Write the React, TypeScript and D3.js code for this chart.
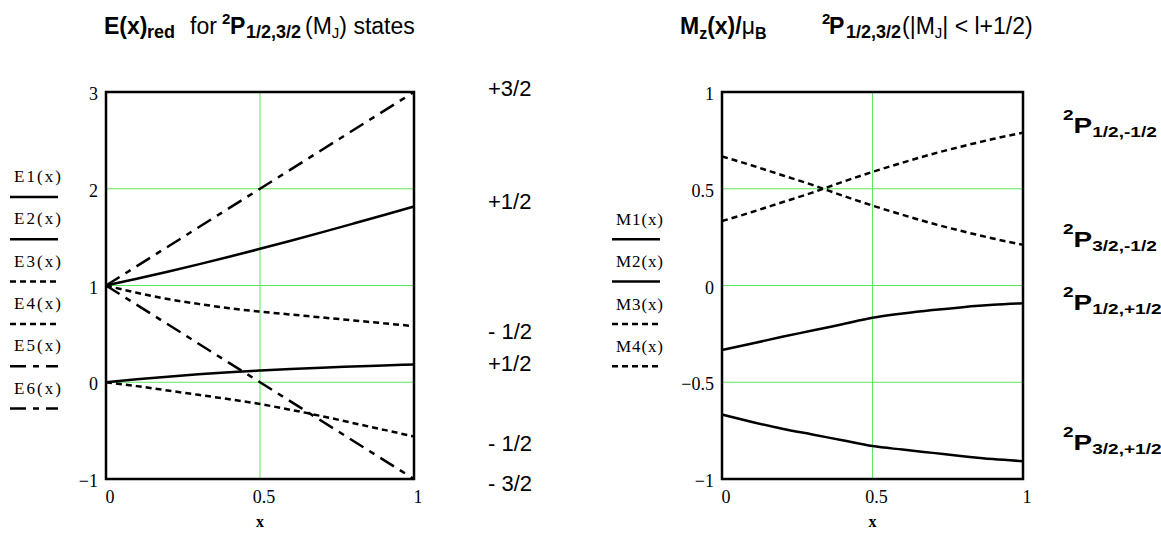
import * as d3 from "d3";

// sample points along x (both panels)
const xs = [0, 0.1, 0.2, 0.3, 0.4, 0.5, 0.6, 0.7, 0.8, 0.9, 1];
const xsLine = [0, 1];

// left panel: reduced energies
const E1 = [1, 1.07, 1.142, 1.218, 1.297, 1.379, 1.463, 1.549, 1.637, 1.726, 1.817];
const E2 = [0, 0.031, 0.058, 0.082, 0.103, 0.121, 0.137, 0.151, 0.163, 0.174, 0.184];
const E3 = [1, 0.925, 0.86, 0.81, 0.765, 0.73, 0.7, 0.67, 0.64, 0.61, 0.58];
const E4 = [0, -0.04, -0.085, -0.13, -0.175, -0.225, -0.285, -0.35, -0.42, -0.49, -0.56];
const E5 = [1, 3];
const E6 = [1, -1];

// right panel: magnetic moments
const M1 = [-0.333, -0.3, -0.265, -0.233, -0.2, -0.167, -0.145, -0.127, -0.112, -0.1, -0.092];
const M2 = [-0.667, -0.705, -0.74, -0.77, -0.8, -0.83, -0.848, -0.865, -0.882, -0.897, -0.908];
const M3 = [0.333, 0.38, 0.43, 0.48, 0.535, 0.587, 0.635, 0.68, 0.72, 0.757, 0.79];
const M4 = [0.667, 0.62, 0.57, 0.52, 0.465, 0.413, 0.365, 0.32, 0.28, 0.243, 0.21];

const leftYTicks = [-1, 0, 1, 2, 3];
const rightYTicks = [-1, -0.5, 0, 0.5, 1];
const xTicks = [0, 0.5, 1];

const leftNames = ["E1(x)", "E2(x)", "E3(x)", "E4(x)", "E5(x)", "E6(x)"];
const rightNames = ["M1(x)", "M2(x)", "M3(x)", "M4(x)"];

// labels to the right of each panel
const leftSideLabels = ["+3/2", "+1/2", "- 1/2", "+1/2", "- 1/2", "- 3/2"];
const leftSideY = [96, 209, 339, 371, 451, 491];
const rightSideSubs = ["1/2,-1/2", "3/2,-1/2", "1/2,+1/2", "3/2,+1/2"];
const rightSideY = [133, 247, 310, 450];

const SANS = "'Liberation Sans', Arial, Helvetica, sans-serif";
const SERIF = "'Liberation Serif', 'Times New Roman', serif";
const GRID = "#5fe65f";

const SOLID = "none";
const DOTS = "6,4";
const DASHDOT = "16,7,6,7";

function fmt(v: number) {
  return v < 0 ? "\u2212" + String(-v) : String(v);
}

type Series = { x: number[]; y: number[]; dash: string };

function Panel({ left, right, top, bottom, domain, yTicks, series }: {
  left: number; right: number; top: number; bottom: number;
  domain: [number, number]; yTicks: number[]; series: Series[];
}) {
  const x = d3.scaleLinear().domain([0, 1]).range([left, right]);
  const y = d3.scaleLinear().domain(domain).range([bottom, top]);
  const line = d3
    .line<[number, number]>()
    .x((d) => x(d[0]))
    .y((d) => y(d[1]))
    .curve(d3.curveMonotoneX);
  const inner = yTicks.filter((t) => t !== domain[0] && t !== domain[1]);
  return (
    <g>
      {inner.map((t) => (
        <line key={"h" + t} x1={left} x2={right} y1={y(t)} y2={y(t)} stroke={GRID} strokeWidth={1} />
      ))}
      <line x1={x(0.5)} x2={x(0.5)} y1={top} y2={bottom} stroke={GRID} strokeWidth={1} />
      {series.map((s, i) => (
        <path
          key={i}
          d={line(s.x.map((v, j) => [v, s.y[j]] as [number, number])) || ""}
          fill="none"
          stroke="#000"
          strokeWidth={2.5}
          strokeDasharray={s.dash}
        />
      ))}
      <rect x={left} y={top} width={right - left} height={bottom - top} fill="none" stroke="#000" strokeWidth={2.5} />
      {yTicks.map((t) => (
        <text key={"y" + t} x={left - 8} y={y(t) + 8} textAnchor="end" fontFamily={SERIF} fontSize={18}>
          {fmt(t)}
        </text>
      ))}
      {xTicks.map((t) => (
        <text key={"x" + t} x={x(t) + 4} y={503} textAnchor="middle" fontFamily={SERIF} fontSize={18}>
          {fmt(t)}
        </text>
      ))}
      <text x={x(0.5)} y={527} textAnchor="middle" fontFamily={SERIF} fontSize={16} fontWeight="bold">
        x
      </text>
    </g>
  );
}

function Legend({ names, dashes, x0, textBase, lineBase }: {
  names: string[]; dashes: string[]; x0: number; textBase: number; lineBase: number;
}) {
  return (
    <g>
      {names.map((n, i) => (
        <g key={n}>
          <text x={x0 + 4} y={textBase + i * 42.3} fontFamily={SERIF} fontSize={17} textLength={47} lengthAdjust="spacing">
            {n}
          </text>
          <line x1={x0} x2={x0 + 48} y1={lineBase + i * 42.3} y2={lineBase + i * 42.3} stroke="#000" strokeWidth={2.5} strokeDasharray={dashes[i]} />
        </g>
      ))}
    </g>
  );
}

export default function App() {
  document.body.style.margin = "0";
  const leftSeries: Series[] = [
    { x: xs, y: E1, dash: SOLID },
    { x: xs, y: E2, dash: SOLID },
    { x: xs, y: E3, dash: DOTS },
    { x: xs, y: E4, dash: DOTS },
    { x: xsLine, y: E5, dash: DASHDOT },
    { x: xsLine, y: E6, dash: DASHDOT },
  ];
  const rightSeries: Series[] = [
    { x: xs, y: M1, dash: SOLID },
    { x: xs, y: M2, dash: SOLID },
    { x: xs, y: M3, dash: DOTS },
    { x: xs, y: M4, dash: DOTS },
  ];
  return (
    <svg width={1161} height={534} style={{ display: "block", background: "#fff" }}>
      {/* left title */}
      <text fontFamily={SANS} fill="#000">
        <tspan x={104} y={34} fontSize={23} fontWeight="bold">E(x)</tspan>
        <tspan x={147} y={38} fontSize={18} fontWeight="bold">red</tspan>
        <tspan x={190} y={34} fontSize={23}>for</tspan>
        <tspan x={222} y={24} fontSize={15} fontWeight="bold">2</tspan>
        <tspan x={230} y={34} fontSize={23} fontWeight="bold">P</tspan>
        <tspan x={246} y={38} fontSize={18} fontWeight="bold">1/2,3/2</tspan>
        <tspan x={305} y={34} fontSize={23}>(M</tspan>
        <tspan y={38} fontSize={15}>J</tspan>
        <tspan y={34} fontSize={23}>) states</tspan>
      </text>
      {/* right title */}
      <text fontFamily={SANS} fill="#000">
        <tspan x={680} y={34} fontSize={23} fontWeight="bold">M</tspan>
        <tspan y={39} fontSize={16} fontWeight="bold">z</tspan>
        <tspan y={34} fontSize={23} fontWeight="bold">(x)/</tspan>
        <tspan y={34} fontSize={23}>{"\u03bc"}</tspan>
        <tspan y={39} fontSize={16} fontWeight="bold">B</tspan>
        <tspan x={822} y={24} fontSize={15} fontWeight="bold">2</tspan>
        <tspan x={829} y={34} fontSize={23} fontWeight="bold">P</tspan>
        <tspan x={846} y={38} fontSize={18} fontWeight="bold">1/2,3/2</tspan>
        <tspan x={902} y={34} fontSize={23}>(|M</tspan>
        <tspan y={38} fontSize={15}>J</tspan>
        <tspan y={34} fontSize={23}>{"| < l+1/2)"}</tspan>
      </text>

      <Panel left={106} right={414} top={92} bottom={479} domain={[-1, 3]} yTicks={leftYTicks} series={leftSeries} />
      <Panel left={722} right={1023} top={92} bottom={479} domain={[-1, 1]} yTicks={rightYTicks} series={rightSeries} />

      <Legend names={leftNames} dashes={[SOLID, SOLID, DOTS, DOTS, DASHDOT, DASHDOT]} x0={10} textBase={182} lineBase={197} />
      <Legend names={rightNames} dashes={[SOLID, SOLID, DOTS, DOTS]} x0={612} textBase={225} lineBase={239.3} />

      {leftSideLabels.map((l, i) => (
        <text key={i} x={488} y={leftSideY[i]} fontFamily={SANS} fontSize={22}>
          {l}
        </text>
      ))}
      {rightSideSubs.map((s, i) => (
        <g key={s} transform={`translate(1063,${rightSideY[i]}) scale(1.27,1)`}>
          <text fontFamily={SANS} fontWeight="bold">
            <tspan x={0} y={-13} fontSize={15}>2</tspan>
            <tspan y={0} fontSize={22}>P</tspan>
            <tspan y={4} fontSize={15}>{s}</tspan>
          </text>
        </g>
      ))}
    </svg>
  );
}
